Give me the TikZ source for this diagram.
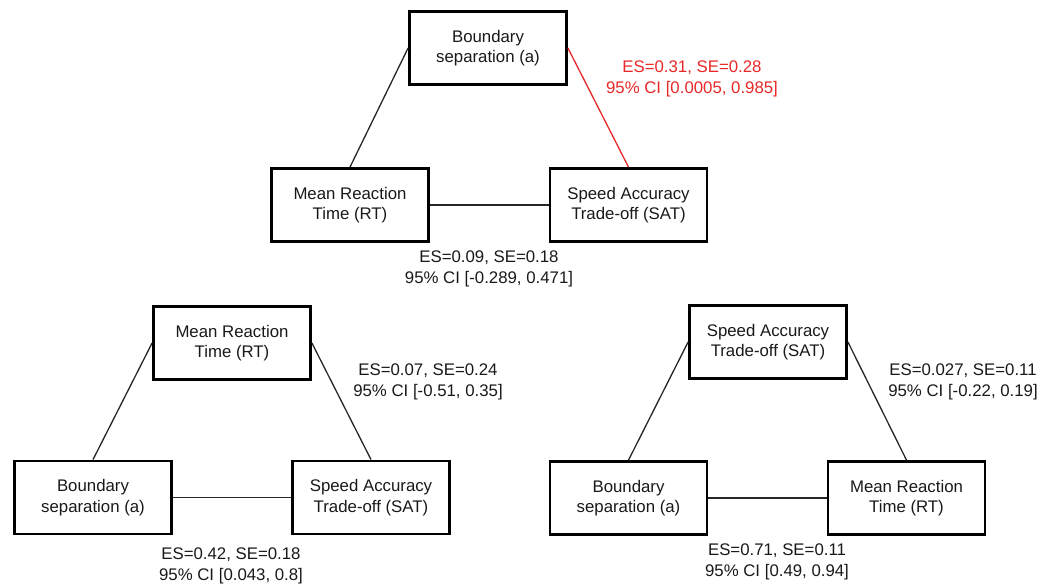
\documentclass[tikz,border=0pt]{standalone}
\usepackage{fontspec}
\setmainfont{Liberation Sans}
\definecolor{sigred}{RGB}{232,40,40}
\definecolor{txt}{RGB}{25,25,25}
\begin{document}
\begin{tikzpicture}[x=1pt,y=-1pt,
  varbox/.style={draw=black,line width=2.8pt,minimum width=157pt,minimum height=73pt,
    align=center,inner sep=0pt,text=txt,font=\fontsize{16.8}{20.5}\selectfont},
  conn/.style={draw=black!85,line width=1.3pt},
  sigconn/.style={draw=sigred,line width=1.3pt},
  stat/.style={align=center,inner sep=0pt,text=txt,font=\fontsize{16.8}{20.5}\selectfont},
  sigstat/.style={stat,text=sigred}]
\useasboundingbox (0,0) rectangle (1043,588);
% top triangle
\node[varbox] (b1) at (488,48) {Boundary\\separation (a)};
\node[varbox] (rt1) at (350,205) {Mean Reaction\\Time (RT)};
\node[varbox] (sat1) at (628.5,205) {Speed Accuracy\\Trade-off (SAT)};
\draw[conn] (b1.west) -- (rt1.north);
\draw[sigconn] (b1.east) -- (sat1.north);
\draw[conn] (rt1.east) -- (sat1.west);
\node[sigstat] (l0) at (692,79) {ES=0.31, SE=0.28\\95\% CI [0.0005, 0.985]};
\node[stat] (l1) at (489,269) {ES=0.09, SE=0.18\\95\% CI [-0.289, 0.471]};
% bottom left triangle
\node[varbox] (rt2) at (232,343) {Mean Reaction\\Time (RT)};
\node[varbox] (b2) at (93,497.5) {Boundary\\separation (a)};
\node[varbox] (sat2) at (371,497.5) {Speed Accuracy\\Trade-off (SAT)};
\draw[conn] (rt2.west) -- (b2.north);
\draw[conn] (rt2.east) -- (sat2.north);
\draw[conn] (b2.east) -- (sat2.west);
\node[stat] (l2) at (428,382) {ES=0.07, SE=0.24\\95\% CI [-0.51, 0.35]};
\node[stat] (l3) at (231,566) {ES=0.42, SE=0.18\\95\% CI [0.043, 0.8]};
% bottom right triangle
\node[varbox] (sat3) at (768,342) {Speed Accuracy\\Trade-off (SAT)};
\node[varbox] (b3) at (628.5,498) {Boundary\\separation (a)};
\node[varbox] (rt3) at (906.5,498) {Mean Reaction\\Time (RT)};
\draw[conn] (sat3.west) -- (b3.north);
\draw[conn] (sat3.east) -- (rt3.north);
\draw[conn] (b3.east) -- (rt3.west);
\node[stat] (l4) at (963,382) {ES=0.027, SE=0.11\\95\% CI [-0.22, 0.19]};
\node[stat] (l5) at (777,562) {ES=0.71, SE=0.11\\95\% CI [0.49, 0.94]};
\end{tikzpicture}
\end{document}
